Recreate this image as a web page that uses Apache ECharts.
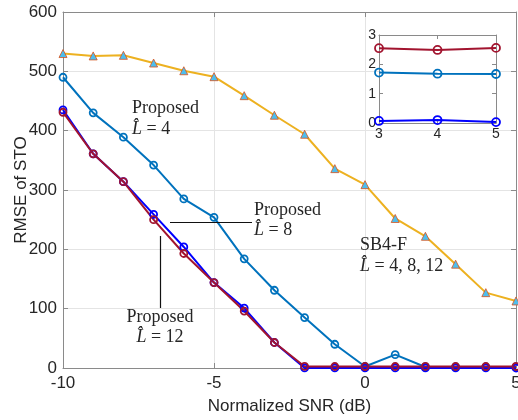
<!DOCTYPE html>
<html>
<head>
<meta charset="utf-8">
<script src="https://cdn.jsdelivr.net/npm/echarts@6/dist/echarts.min.js"></script>
<style>
  html, body { margin: 0; padding: 0; background: #fff; }
  #chart { width: 518px; height: 420px; }
</style>
</head>
<body>
<div id="chart"></div>
<script>
// Normalized SNR (dB) sample points
const snr = [-10, -9, -8, -7, -6, -5, -4, -3, -2, -1, 0, 1, 2, 3, 4, 5];

// RMSE of STO for each estimator
const sb4f    = [530, 526, 527, 514, 501, 491, 459, 426, 394, 336, 309, 252, 222, 175, 127, 113];
const propL4  = [490, 430, 389, 342, 285, 254, 184, 131, 85, 40, 2.5, 22.5, 1.72, 1.72, 1.68, 1.67];
const propL8  = [435, 361, 314, 259, 204, 144, 101, 43, 0.1, 0.1, 0.08, 0.06, 0.05, 0.07, 0.1, 0.03];
const propL12 = [431, 361, 314, 250, 193, 144, 96, 43, 2.6, 2.55, 2.5, 2.55, 2.58, 2.55, 2.49, 2.56];

// Axis ranges
const xMin = -10, xMax = 5, xStep = 5;
const yMin = 0, yMax = 600, yStep = 100;
const insetXMin = 3, insetXMax = 5;
const insetYMin = 0, insetYMax = 3;

const C_L4 = '#0072BD', C_L8 = '#0000FF', C_L12 = '#A2142F', C_SB = '#EDB120';
const AXIS = '#8a8a8a', TXT = '#262626';
const SANS = '"Liberation Sans", Arial, Helvetica, sans-serif';
const SERIF = '"Liberation Serif", "DejaVu Serif", serif';

const pairs = (arr) => snr.map((x, i) => [x, arr[i]]);
const insetPairs = (arr) => snr.map((x, i) => [x, arr[i]]).filter(p => p[0] >= insetXMin && p[0] <= insetXMax);

function ringSeries(name, color, xi, yi, data, size) {
  return {
    name, type: 'line', xAxisIndex: xi, yAxisIndex: yi, data,
    symbol: 'circle', symbolSize: size, showSymbol: true,
    lineStyle: { color, width: 2 },
    itemStyle: { color: 'rgba(255,255,255,0)', borderColor: color, borderWidth: 1.8 },
    emphasis: { disabled: true }, animation: false, z: 4
  };
}

function mainAxisX(pos, showLabel) {
  return {
    type: 'value', gridIndex: 0, position: pos, min: xMin, max: xMax, interval: xStep,
    axisLine: { show: true, onZero: false, lineStyle: { color: AXIS, width: 1 } },
    axisTick: { show: true, inside: true, length: 5, lineStyle: { color: AXIS } },
    axisLabel: { show: showLabel, color: TXT, fontSize: 17, fontFamily: SANS, margin: 7 },
    splitLine: { show: showLabel, lineStyle: { color: '#e4e4e4', width: 1 } },
    name: showLabel ? 'Normalized SNR (dB)' : '', nameLocation: 'middle', nameGap: 30,
    nameMoveOverlap: false,
    nameTextStyle: { color: TXT, fontSize: 17, fontFamily: SANS }
  };
}
function mainAxisY(pos, showLabel) {
  return {
    type: 'value', gridIndex: 0, position: pos, min: yMin, max: yMax, interval: yStep,
    axisLine: { show: true, onZero: false, lineStyle: { color: AXIS, width: 1 } },
    axisTick: { show: true, inside: true, length: 5, lineStyle: { color: AXIS } },
    axisLabel: { show: showLabel, color: TXT, fontSize: 17, fontFamily: SANS, margin: 6 },
    splitLine: { show: showLabel, lineStyle: { color: '#e4e4e4', width: 1 } },
    name: showLabel ? 'RMSE of STO' : '', nameLocation: 'middle', nameGap: 33,
    nameMoveOverlap: false,
    nameTextStyle: { color: TXT, fontSize: 17, fontFamily: SANS }
  };
}
function insetAxisX(pos, showLabel) {
  return {
    type: 'value', gridIndex: 1, position: pos, min: insetXMin, max: insetXMax, interval: 1, z: 3,
    axisLine: { show: true, onZero: false, lineStyle: { color: AXIS, width: 1 } },
    axisTick: { show: true, inside: true, length: 4, lineStyle: { color: AXIS } },
    axisLabel: { show: showLabel, color: TXT, fontSize: 14, fontFamily: SANS, margin: 4 },
    splitLine: { show: false }
  };
}
function insetAxisY(pos, showLabel) {
  return {
    type: 'value', gridIndex: 1, position: pos, min: insetYMin, max: insetYMax, interval: 1, z: 3,
    axisLine: { show: true, onZero: false, lineStyle: { color: AXIS, width: 1 } },
    axisTick: { show: true, inside: true, length: 4, lineStyle: { color: AXIS } },
    axisLabel: { show: showLabel, color: TXT, fontSize: 14, fontFamily: SANS, margin: 3 },
    splitLine: { show: false }
  };
}

const chart = echarts.init(document.getElementById('chart'), null, { renderer: 'canvas' });

const labelRich = {
  n: { fontFamily: SERIF, fontSize: 18, color: TXT },
  i: { fontFamily: SERIF, fontSize: 18, fontStyle: 'italic', color: TXT }
};
// One line of annotation text, anchored at (x, y) with vertical centring
function note(x, y, text, align) {
  return {
    type: 'text', x, y, z: 10,
    style: {
      text, rich: labelRich, align: align || 'left', verticalAlign: 'middle',
      textAlign: align || 'left', textVerticalAlign: 'middle',
      font: '18px ' + SERIF, fill: TXT
    }
  };
}

chart.setOption({
  animation: false,
  backgroundColor: '#fff',
  grid: [
    { left: 63, right: 2, top: 12, bottom: 52, outerBoundsMode: 'none', containLabel: false },
    { left: 379, right: 22, top: 35, bottom: 297, show: true, backgroundColor: '#fff', borderWidth: 0, z: 2,
      outerBoundsMode: 'none', containLabel: false }
  ],
  xAxis: [ mainAxisX('bottom', true), mainAxisX('top', false), insetAxisX('bottom', true), insetAxisX('top', false) ],
  yAxis: [ mainAxisY('left', true), mainAxisY('right', false), insetAxisY('left', true), insetAxisY('right', false) ],
  series: [
    ringSeries('Proposed L=4', C_L4, 0, 0, pairs(propL4), 7),
    ringSeries('Proposed L=8', C_L8, 0, 0, pairs(propL8), 7),
    ringSeries('Proposed L=12', C_L12, 0, 0, pairs(propL12), 7),
    {
      name: 'SB4-F', type: 'line', xAxisIndex: 0, yAxisIndex: 0, data: pairs(sb4f),
      symbol: 'triangle', symbolSize: 8,
      lineStyle: { color: C_SB, width: 2 },
      itemStyle: { color: '#4DBEEE', borderColor: '#D95319', borderWidth: 0.8 },
      animation: false, z: 4
    },
    ringSeries('Proposed L=4 inset', C_L4, 2, 2, insetPairs(propL4), 8),
    ringSeries('Proposed L=8 inset', C_L8, 2, 2, insetPairs(propL8), 8),
    ringSeries('Proposed L=12 inset', C_L12, 2, 2, insetPairs(propL12), 8)
  ],
  graphic: [
    note(132, 108, '{n|Proposed}'),
    note(132, 129, '{i|L̂}{n| = 4}'),
    note(254, 210, '{n|Proposed}'),
    note(254, 230, '{i|L̂}{n| = 8}'),
    note(160, 317, '{n|Proposed}', 'center'),
    note(160, 337, '{i|L̂}{n| = 12}', 'center'),
    note(360, 245, '{n|SB4-F}'),
    note(360, 266, '{i|L̂}{n| = 4, 8, 12}'),
    { type: 'line', z: 10, shape: { x1: 170, y1: 222.5, x2: 252, y2: 222.5 }, style: { stroke: '#111', lineWidth: 1.2 } },
    { type: 'line', z: 10, shape: { x1: 160.5, y1: 236, x2: 160.5, y2: 308 }, style: { stroke: '#111', lineWidth: 1.2 } }
  ]
});
</script>
</body>
</html>
